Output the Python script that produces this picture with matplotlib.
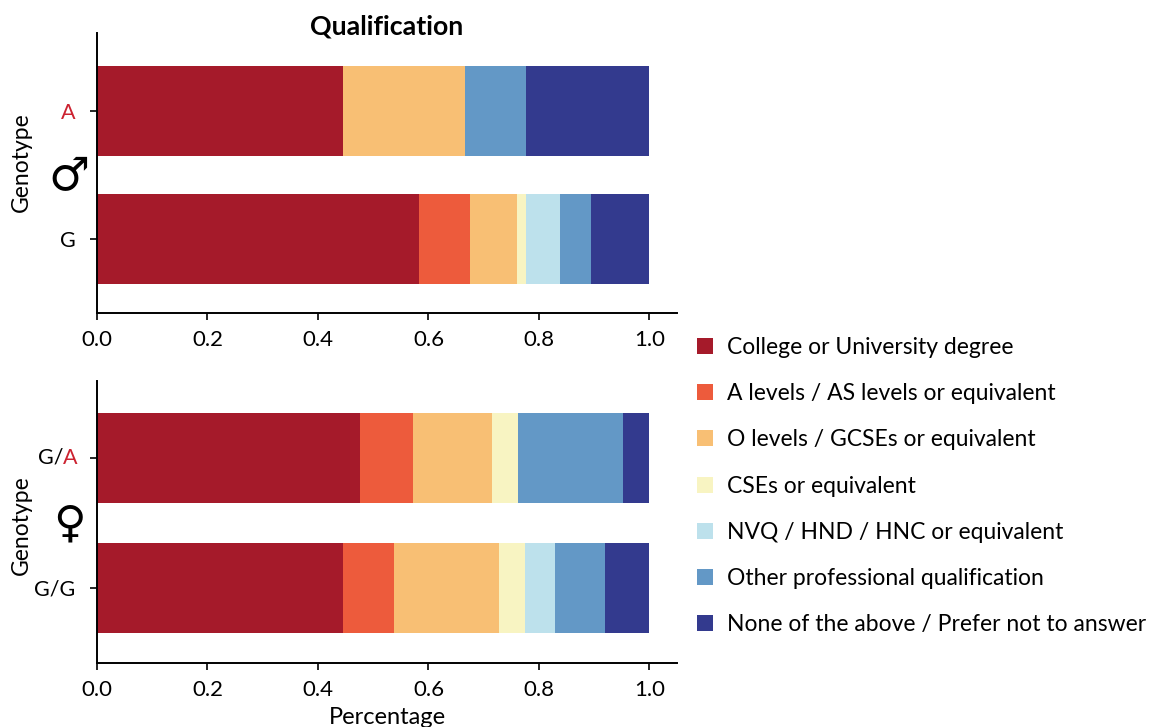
import matplotlib
matplotlib.use("Agg")
import matplotlib.pyplot as plt
from matplotlib.patches import Patch

plt.rcParams['font.family'] = ['Lato', 'DejaVu Sans']

categories = [
    "College or University degree",
    "A levels / AS levels or equivalent",
    "O levels / GCSEs or equivalent",
    "CSEs or equivalent",
    "NVQ / HND / HNC or equivalent",
    "Other professional qualification",
    "None of the above / Prefer not to answer",
]
colors = ["#a51a2a", "#ed5b3c", "#f8bf74", "#f8f4c2", "#bde1ec", "#6398c6", "#333a8e"]

# Fractions per genotype, in category order (sum to 1)
male_A = [0.445, 0.0, 0.222, 0.0, 0.0, 0.110, 0.223]
male_G = [0.582, 0.094, 0.084, 0.016, 0.062, 0.056, 0.106]
female_GA = [0.477, 0.095, 0.143, 0.047, 0.0, 0.190, 0.048]
female_GG = [0.446, 0.092, 0.190, 0.047, 0.055, 0.090, 0.080]

xticks = [0.0, 0.2, 0.4, 0.6, 0.8, 1.0]
xticklabels = ["0.0", "0.2", "0.4", "0.6", "0.8", "1.0"]

RED = "#cc2230"

fig = plt.figure(figsize=(11.52, 7.27), dpi=100)
ax_m = fig.add_axes([0.0842, 0.5695, 0.5035, 0.385])
ax_f = fig.add_axes([0.0842, 0.088, 0.5035, 0.388])


def stacked(ax, rows, ylim, bar_h, label_y):
    for y, vals in rows:
        left = 0.0
        for v, c in zip(vals, colors):
            if v > 0:
                ax.barh(y, v, left=left, height=bar_h, color=c, edgecolor="none")
            left += v
    ax.set_xlim(0, 1.05)
    ax.set_ylim(*ylim)
    ax.set_xticks(xticks)
    ax.set_xticklabels(xticklabels)
    for s in ("top", "right"):
        ax.spines[s].set_visible(False)
    for s in ("left", "bottom"):
        ax.spines[s].set_linewidth(1.4)
    ax.tick_params(axis="x", labelsize=16, length=5, width=1.2, pad=7)
    ax.tick_params(axis="y", labelsize=15.5, length=5, width=1.2, pad=10.5)
    ax.set_ylabel("Genotype", fontsize=16.5)
    ax.yaxis.set_label_coords(-0.112, label_y)


stacked(ax_m, [(1, male_A), (0, male_G)], (-0.578, 1.609), 0.70, 0.54)
stacked(ax_f, [(1, female_GA), (0, female_GG)], (-0.577, 1.592), 0.69, 0.49)

ax_m.set_yticks([1, 0])
ax_m.set_yticklabels(["A", "G"])
ax_m.get_yticklabels()[0].set_color(RED)

ax_f.set_yticks([1, 0])
ax_f.set_yticklabels(["", "G/G"])
a_txt = ax_f.annotate("A", xy=(0, 1), xycoords=("axes fraction", "data"),
                      xytext=(-14, 0), textcoords="offset points",
                      ha="right", va="center", fontsize=15.5, color=RED)
ax_f.annotate("G/", xy=(0, 0.5), xycoords=a_txt, ha="right", va="center",
              fontsize=15.5, color="black")

# Sex symbols between the genotype rows
ax_m.annotate("\u2642", xy=(0, 0.5), xycoords=("axes fraction", "data"),
              xytext=(-20, -1.5), textcoords="offset points", ha="center", va="center",
              fontsize=33, family="DejaVu Sans")
ax_f.annotate("\u2640", xy=(0, 0.5), xycoords=("axes fraction", "data"),
              xytext=(-20, -1), textcoords="offset points", ha="center", va="center",
              fontsize=32, family="DejaVu Sans")

ax_m.set_title("Qualification", fontsize=19.3, fontweight="bold", y=0.995, pad=0)
ax_f.set_xlabel("Percentage", fontsize=17, labelpad=5)

handles = [Patch(facecolor=c, edgecolor="none") for c in colors]
fig.legend(handles, categories, loc="upper left", bbox_to_anchor=(0.605, 0.5365),
           frameon=False, fontsize=16.5, handlelength=0.7, handleheight=0.7,
           handletextpad=0.6, labelspacing=1.1, borderaxespad=0, borderpad=0)

fig.savefig("out.png", dpi=100)
